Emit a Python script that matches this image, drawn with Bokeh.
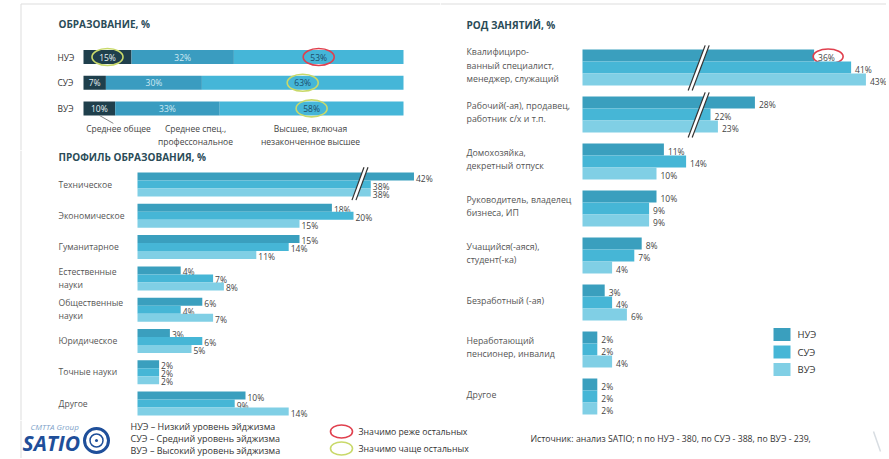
from bokeh.plotting import figure
from bokeh.models import Range1d
from bokeh.layouts import column, row
from bokeh.embed import file_html
from bokeh.resources import INLINE
from bokeh.core.properties import value

FONT = "Open Sans"

# ---------------- data ----------------
series = ["НУЭ", "СУЭ", "ВУЭ"]
series_colors = ["#3a9fbe", "#46b6d6", "#80cfe5"]

edu_rows = ["НУЭ", "СУЭ", "ВУЭ"]
edu_levels = ["Среднее общее", "Среднее спец.,\nпрофессональное", "Высшее, включая\nнезаконченное высшее"]
edu_general = [15, 7, 10]
edu_special = [32, 30, 33]
edu_higher = [53, 63, 58]
# significance marks per row: (general, special, higher)
edu_marks = [("more", None, "less"), (None, None, "more"), (None, None, "more")]
edu_colors = ["#1f3f4c", "#3a9cc0", "#45b6d8"]
edu_text_colors = ["#e6f2f6", "#cfeaf4", "#1d4d6a"]

prof_cats = ["Техническое", "Экономическое", "Гуманитарное", "Естественные\nнауки",
             "Общественные\nнауки", "Юридическое", "Точные науки", "Другое"]
prof_nue = [42, 18, 15, 4, 6, 3, 2, 10]
prof_sue = [38, 20, 14, 7, 4, 6, 2, 9]
prof_vue = [38, 15, 11, 8, 7, 5, 2, 14]
prof_break_at = 20.6
prof_break_cut = 16.4

occ_cats = ["Квалифициро-\nванный специалист,\nменеджер, служащий",
            "Рабочий(-ая), продавец,\nработник с/х и т.п.",
            "Домохозяйка,\nдекретный отпуск",
            "Руководитель, владелец\nбизнеса, ИП",
            "Учащийся(-аяся),\nстудент(-ка)",
            "Безработный (-ая)",
            "Неработающий\nпенсионер, инвалид",
            "Другое"]
occ_nue = [36, 28, 11, 10, 8, 3, 2, 2]
occ_sue = [41, 22, 14, 9, 7, 4, 2, 2]
occ_vue = [43, 23, 10, 9, 4, 6, 4, 2]
occ_marks = {(0, 0): "less"}  # (category, series) -> mark
occ_break_at = 15.7
occ_break_cut = 4.7

legend_lines = ["НУЭ – Низкий уровень эйджизма",
                "СУЭ – Средний уровень эйджизма",
                "ВУЭ – Высокий уровень эйджизма"]
mark_labels = {"less": "Значимо реже остальных", "more": "Значимо чаще остальных"}
mark_colors = {"less": "#e0404e", "more": "#c9d96a"}
source_text = "Источник: анализ SATIO; n по НУЭ - 380, по СУЭ - 388, по ВУЭ - 239,"

TITLE_COLOR = "#2a4b57"
CAT_COLOR = "#555555"
VAL_COLOR = "#444444"
BORDER = "#dddddd"


class Panel:
    def __init__(self, ox, oy, w, h, ax0, kx, ay0, ky):
        self.ax0, self.kx, self.ay0, self.ky = ax0, kx, ay0, ky
        self.p = figure(width=w, height=h,
                        x_range=Range1d((ox - ax0) / kx, (ox + w - ax0) / kx),
                        y_range=Range1d((oy + h - ay0) / ky, (oy - ay0) / ky),
                        toolbar_location=None, output_backend="svg",
                        x_axis_location=None, y_axis_location=None,
                        min_border=0, outline_line_color=None,
                        background_fill_color="white", border_fill_color="white")
        self.p.xgrid.visible = False
        self.p.ygrid.visible = False

    def X(self, px):
        return (px - self.ax0) / self.kx

    def Y(self, py):
        return (py - self.ay0) / self.ky

    def text_data(self, x, y, s, size=8.5, color=VAL_COLOR, align="left", style="normal"):
        self.p.text(x=[x], y=[y], text=[s], text_font=value(FONT),
                    text_font_size=f"{size}px", text_color=color,
                    text_align=align, text_baseline="middle", text_font_style=style)

    def text(self, px, py, s, **kw):
        self.text_data(self.X(px), self.Y(py), s, **kw)

    def multiline(self, px, py_center, s, spacing, **kw):
        lines = s.split("\n")
        n = len(lines)
        for j, ln in enumerate(lines):
            self.text(px, py_center + (j - (n - 1) / 2) * spacing, ln, **kw)

    def line_px(self, px0, py0, px1, py1, color=BORDER, width=1):
        self.p.line(x=[self.X(px0), self.X(px1)], y=[self.Y(py0), self.Y(py1)],
                    line_color=color, line_width=width)

    def ellipse_data(self, x, y, w, h, kind):
        self.p.ellipse(x=[x], y=[y], width=w, height=h, width_units="screen",
                       height_units="screen", fill_color=None,
                       line_color=mark_colors[kind], line_width=1.6)

    def break_mark(self, xb, y0, y1, slant_px, gap_px):
        dxs = slant_px / 2 / self.kx
        g = gap_px / 2 / self.kx
        xs = [xb + dxs - g, xb + dxs + g, xb - dxs + g, xb - dxs - g]
        ys = [y0, y0, y1, y1]
        self.p.patch(x=xs, y=ys, fill_color="white", line_color=None)
        for s in (-g, g):
            self.p.line(x=[xb + dxs + s, xb - dxs + s], y=[y0, y1],
                        line_color="#333333", line_width=1.2)


def disp(v, brk, cut):
    return v if v <= brk else v - cut


# ---------------- education (stacked) ----------------
edu = Panel(0, 0, 440, 150, 83, 3.2, 56.5, 25.7)
edu.line_px(20.5, 3.5, 20.5, 150)
edu.line_px(20.5, 3.5, 440, 3.5)
edu.text(58, 23, "ОБРАЗОВАНИЕ, %", size=10, color=TITLE_COLOR, style="bold")
edu_bh = 14 / 25.7
segs = list(zip(edu_general, edu_special, edu_higher))
for i, (rname, vals) in enumerate(zip(edu_rows, segs)):
    total = sum(vals)
    left = 0.0
    edu.text_data(edu.X(57), i, rname, size=8.5, color="#333333")
    for j, v in enumerate(vals):
        w = v / total * 100
        edu.p.hbar(y=[i], height=edu_bh, left=[left], right=[left + w],
                   fill_color=edu_colors[j], line_color=None)
        cx = left + w / 2
        edu.text_data(cx, i, f"{v}%", size=8.5, color=edu_text_colors[j], align="center")
        mk = edu_marks[i][j]
        if mk:
            edu.ellipse_data(cx, i, 31, 17, mk)
        left += w
# leader line from "Среднее общее" to the last row's first segment
last_total = sum(segs[-1])
x_first = segs[-1][0] / last_total * 100 / 2
edu.p.line(x=[x_first, x_first + 14 / 3.2], y=[2 + edu_bh / 2, 2 + edu_bh / 2 + 8 / 25.7],
           line_color="#888888", line_width=1)
level_x = [118, 195, 310]
for lx, lab in zip(level_x, edu_levels):
    lines = lab.split("\n")
    for j, ln in enumerate(lines):
        edu.text(lx, 128 + j * 13, ln, size=8.5, color=VAL_COLOR, align="center")

# ---------------- education profile ----------------
prof = Panel(0, 150, 440, 270, 137, 10.8, 184, 31.3)
prof.line_px(20.5, 150, 20.5, 420)
prof.text(58, 156, "ПРОФИЛЬ ОБРАЗОВАНИЯ, %", size=10, color=TITLE_COLOR, style="bold")
pbh = 8 / 31.3
for i, cat in enumerate(prof_cats):
    prof.multiline(58, 184 + i * 31.3, cat, 12.5, size=8.6, color=CAT_COLOR)
    vals = [prof_nue[i], prof_sue[i], prof_vue[i]]
    for k, v in enumerate(vals):
        y = i + (k - 1) * pbh
        d = disp(v, prof_break_at, prof_break_cut)
        prof.p.hbar(y=[y], height=pbh, left=0, right=[d],
                    fill_color=series_colors[k], line_color=None)
        prof.text_data(d + 2 / 10.8, y + 1.5 / 31.3, f"{v}%", size=8.5, color=VAL_COLOR)
    if max(vals) > prof_break_at:
        prof.break_mark(prof_break_at, i - 0.55, i + 0.5, 12, 4)

# ---------------- occupation ----------------
occ = Panel(440, 0, 446, 420, 582, 7.4, 67, 47)
occ.line_px(440, 3.5, 886, 3.5)
occ.text(466, 24, "РОД ЗАНЯТИЙ, %", size=10, color=TITLE_COLOR, style="bold")
obh = 12 / 47
for i, cat in enumerate(occ_cats):
    occ.multiline(466, 67 + i * 47 - 2, cat, 13.5, size=8.8, color=CAT_COLOR)
    vals = [occ_nue[i], occ_sue[i], occ_vue[i]]
    for k, v in enumerate(vals):
        y = i + (k - 1) * obh
        d = disp(v, occ_break_at, occ_break_cut)
        occ.p.hbar(y=[y], height=obh, left=0, right=[d],
                   fill_color=series_colors[k], line_color=None)
        tx = d + 4 / 7.4
        occ.text_data(tx, y + 2 / 47, f"{v}%", size=8.5, color=VAL_COLOR)
        mk = occ_marks.get((i, k))
        if mk:
            occ.ellipse_data(tx + 10 / 7.4, y + 1 / 47, 30, 15, mk)
    if max(vals) > occ_break_at:
        occ.break_mark(occ_break_at, i - 0.47, i + 0.49, 17, 4)
for k, s in enumerate(series):
    py = 334 + k * 17.5
    occ.p.rect(x=[occ.X(781.5)], y=[occ.Y(py)], width=17, height=13,
               width_units="screen", height_units="screen",
               fill_color=series_colors[k], line_color=None)
    occ.text(797, py, s, size=9.5, color="#333333")

# ---------------- footer ----------------
foot = Panel(0, 420, 886, 38, 0, 1, 0, 1)
foot.line_px(20.5, 420, 20.5, 458)
foot.text(30, 425.5, "CMTTA Group", size=8, color="#7d9fc9", style="italic")
foot.text(22, 442, "SATIO", size=21, color="#1f4f9a", style="bold italic")
foot.p.circle(x=[96], y=[440], radius=12, radius_units="screen", fill_color=None,
              line_color="#1f4f9a", line_width=3)
foot.p.circle(x=[96], y=[440], radius=6.5, radius_units="screen", fill_color=None,
              line_color="#1f4f9a", line_width=1.5)
foot.p.scatter(x=[96], y=[440], size=3, marker="circle", fill_color="#1f4f9a", line_color=None)
for j, ln in enumerate(legend_lines):
    foot.text(130, 425.5 + j * 12, ln, size=9, color="#333333")
for j, kind in enumerate(["less", "more"]):
    py = 431 + j * 17
    foot.ellipse_data(341, py, 22, 13, kind)
    foot.text(358, py, mark_labels[kind], size=8.7, color="#333333")
foot.text(530, 438, source_text, size=8.7, color="#333333")
foot.line_px(873, 431, 880, 451, color="#d8dde2", width=1.5)

layout = column(row(column(edu.p, prof.p, spacing=0), occ.p, spacing=0), foot.p, spacing=0)
open("out.html", "w").write(file_html(layout, INLINE))
